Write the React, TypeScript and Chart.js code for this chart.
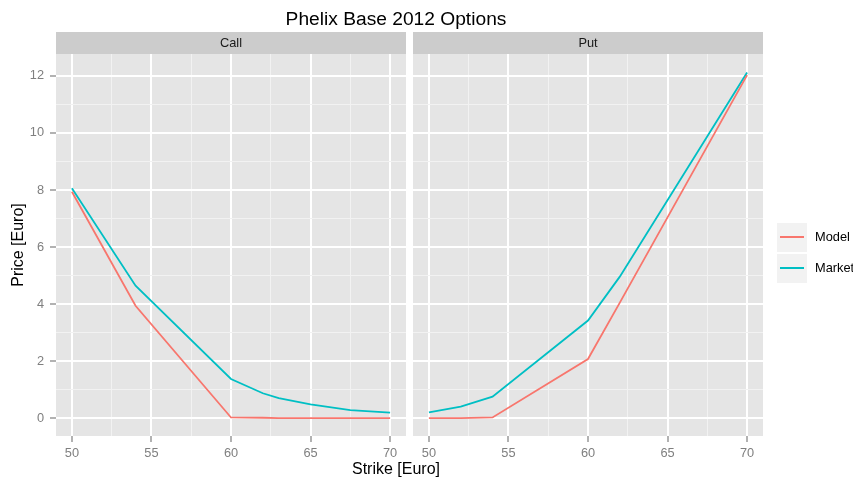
import React, { useEffect, useRef } from "react";
import { Chart, registerables } from "chart.js";

Chart.register(...registerables);

const FONT = "'Liberation Sans', Arial, Helvetica, sans-serif";

const chartTitle = "Phelix Base 2012 Options";
const xAxisTitle = "Strike [Euro]";
const yAxisTitle = "Price [Euro]";
const panelNames = ["Call", "Put"];
const seriesNames = ["Model", "Market"];
const seriesColors = ["#F8766D", "#00BFC4"];

const callStrikes = [50, 54, 60, 62, 63, 65, 67.5, 70];
const callModel = [7.94, 3.94, 0.02, 0.01, 0.0, 0.0, 0.0, 0.0];
const callMarket = [8.06, 4.64, 1.37, 0.87, 0.7, 0.48, 0.28, 0.19];

const putStrikes = [50, 52, 54, 60, 62, 70];
const putModel = [0.0, 0.0, 0.02, 2.07, 4.05, 12.03];
const putMarket = [0.2, 0.4, 0.75, 3.42, 4.96, 12.12];

const xTickValues = [50, 52.5, 55, 57.5, 60, 62.5, 65, 67.5, 70];
const xLabelValues = [50, 55, 60, 65, 70];
const yTickValues = [0, 1, 2, 3, 4, 5, 6, 7, 8, 9, 10, 11, 12];
const yLabelValues = [0, 2, 4, 6, 8, 10, 12];

const X_MIN = 49;
const X_MAX = 71;
const Y_MIN = -0.63;
const Y_MAX = 12.77;

const panelPlugin = {
  id: "panelDecor",
  beforeDraw(chart: any, _args: any, opts: any) {
    const { ctx, chartArea } = chart;
    const { left, top, right, bottom } = chartArea;
    ctx.save();
    ctx.fillStyle = "#E5E5E5";
    ctx.fillRect(left, top, right - left, bottom - top);
    ctx.fillStyle = "#CCCCCC";
    ctx.fillRect(left, top - 22, right - left, 22);
    ctx.fillStyle = "#1A1A1A";
    ctx.font = `12.8px ${FONT}`;
    ctx.textAlign = "center";
    ctx.textBaseline = "middle";
    ctx.fillText(opts.label || "", (left + right) / 2, top - 11);
    ctx.restore();
  },
};

function gridOpts(majors: number[], withTicks: boolean) {
  const isMajor = (ctx: any) => ctx.tick && majors.includes(ctx.tick.value);
  return {
    color: (ctx: any) => (isMajor(ctx) ? "#FFFFFF" : "#F2F2F2"),
    lineWidth: (ctx: any) => (isMajor(ctx) ? 2 : 1),
    drawTicks: withTicks,
    tickLength: withTicks ? 6 : 0,
    tickColor: (ctx: any) => (isMajor(ctx) ? "#7F7F7F" : "rgba(0,0,0,0)"),
    tickWidth: 1.2,
  };
}

function makeConfig(
  panel: string,
  strikes: number[],
  model: number[],
  market: number[],
  isLeft: boolean
): any {
  const series = [model, market];
  return {
    type: "line",
    data: {
      datasets: series.map((vals, si) => ({
        label: seriesNames[si],
        data: strikes.map((x, i) => ({ x, y: vals[i] })),
        borderColor: seriesColors[si],
        backgroundColor: seriesColors[si],
        borderWidth: 1.8,
        pointRadius: 0,
        fill: false,
        tension: 0,
      })),
    },
    options: {
      responsive: false,
      animation: false,
      events: [],
      layout: {
        padding: isLeft
          ? { left: 0, top: 54, right: 4, bottom: 0 }
          : { left: 3, top: 54, right: 90, bottom: 0 },
      },
      plugins: {
        legend: { display: false },
        tooltip: { enabled: false },
        title: { display: false },
        panelDecor: { label: panel },
      },
      scales: {
        x: {
          type: "linear",
          min: X_MIN,
          max: X_MAX,
          afterBuildTicks: (s: any) => {
            s.ticks = xTickValues.map((v) => ({ value: v }));
          },
          afterFit: (s: any) => {
            s.height = 42;
          },
          border: { display: false },
          grid: gridOpts(xLabelValues, true),
          ticks: {
            autoSkip: false,
            maxRotation: 0,
            minRotation: 0,
            padding: 4,
            color: "#7F7F7F",
            font: { family: FONT, size: 12.8 },
            callback: (v: any) => (xLabelValues.includes(v) ? String(v) : ""),
          },
        },
        y: {
          type: "linear",
          min: Y_MIN,
          max: Y_MAX,
          afterBuildTicks: (s: any) => {
            s.ticks = yTickValues.map((v) => ({ value: v }));
          },
          afterFit: (s: any) => {
            s.width = isLeft ? 56 : 0;
          },
          border: { display: false },
          grid: gridOpts(yLabelValues, isLeft),
          title: {
            display: isLeft,
            text: yAxisTitle,
            color: "#000000",
            font: { family: FONT, size: 16 },
            padding: { top: 9, bottom: 0 },
          },
          ticks: {
            display: isLeft,
            autoSkip: false,
            padding: 6,
            color: "#7F7F7F",
            font: { family: FONT, size: 12.8 },
            callback: (v: any) => (yLabelValues.includes(v) ? String(v) : ""),
          },
        },
      },
    },
    plugins: [panelPlugin],
  };
}

export default function App() {
  const leftRef = useRef<HTMLCanvasElement | null>(null);
  const rightRef = useRef<HTMLCanvasElement | null>(null);

  useEffect(() => {
    const charts: Chart[] = [];
    if (leftRef.current) {
      charts.push(
        new Chart(
          leftRef.current,
          makeConfig(panelNames[0], callStrikes, callModel, callMarket, true)
        )
      );
    }
    if (rightRef.current) {
      charts.push(
        new Chart(
          rightRef.current,
          makeConfig(panelNames[1], putStrikes, putModel, putMarket, false)
        )
      );
    }
    return () => charts.forEach((c) => c.destroy());
  }, []);

  return (
    <div
      style={{
        position: "absolute",
        left: 0,
        top: 0,
        width: 853,
        height: 478,
        background: "#FFFFFF",
        fontFamily: FONT,
        overflow: "hidden",
      }}
    >
      <canvas
        ref={leftRef}
        width={410}
        height={478}
        style={{ position: "absolute", left: 0, top: 0, width: 410, height: 478 }}
      />
      <canvas
        ref={rightRef}
        width={443}
        height={478}
        style={{ position: "absolute", left: 410, top: 0, width: 443, height: 478 }}
      />
      <div
        style={{
          position: "absolute",
          left: 0,
          width: 792,
          top: 7.2,
          height: 24,
          lineHeight: "24px",
          fontSize: 19.2,
          textAlign: "center",
          color: "#000",
          whiteSpace: "nowrap",
        }}
      >
        {chartTitle}
      </div>
      <div
        style={{
          position: "absolute",
          left: 0,
          width: 792,
          top: 458.8,
          height: 20,
          lineHeight: "20px",
          fontSize: 16,
          textAlign: "center",
          color: "#000",
          whiteSpace: "nowrap",
        }}
      >
        {xAxisTitle}
      </div>
      {seriesNames.map((name, i) => (
        <React.Fragment key={name}>
          <div
            style={{
              position: "absolute",
              left: 777,
              top: 223 + i * 31,
              width: 30,
              height: 29,
              background: "#F2F2F2",
            }}
          >
            <div
              style={{
                position: "absolute",
                left: 3,
                width: 24,
                top: 13.3,
                height: 2,
                background: seriesColors[i],
              }}
            />
          </div>
          <div
            style={{
              position: "absolute",
              left: 815,
              top: 227.2 + i * 30.8,
              height: 20,
              lineHeight: "20px",
              fontSize: 12.8,
              color: "#000",
              whiteSpace: "nowrap",
            }}
          >
            {name}
          </div>
        </React.Fragment>
      ))}
    </div>
  );
}
